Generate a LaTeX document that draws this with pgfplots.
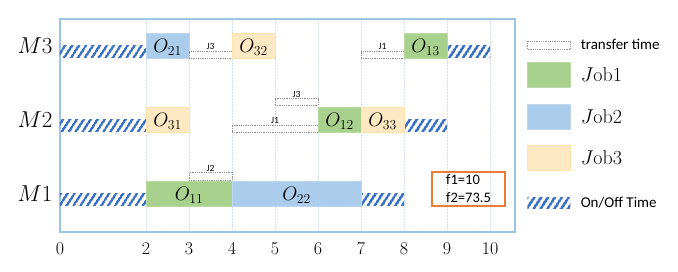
\RequirePackage{fix-cm}
\documentclass[border=0pt]{standalone}
\usepackage{fontspec}
\usepackage{pgfplots}
\pgfplotsset{compat=1.18}
\usetikzlibrary{patterns.meta}
\newfontfamily\calibri{Carlito}
\definecolor{gfill}{HTML}{A9D18E}
\definecolor{gdraw}{HTML}{B9DBA3}
\definecolor{bfill}{HTML}{ABCCEB}
\definecolor{bdraw}{HTML}{BCD6EF}
\definecolor{yfill}{HTML}{FFE9C2}
\definecolor{ydraw}{HTML}{FFE2AC}
\definecolor{hblue}{HTML}{3A70C3}
\definecolor{axblue}{HTML}{9DC3E6}
\definecolor{gridc}{HTML}{D5E0EE}
\definecolor{orng}{HTML}{ED7D31}
\definecolor{trgray}{HTML}{909090}
\newcommand{\gbox}[5]{\addplot[forget plot,#5] coordinates {(#1,#3) (#2,#3) (#2,#4) (#1,#4)} -- cycle;}
\tikzset{
  job1/.style={fill=gfill,draw=gdraw,line width=0.8pt},
  job2/.style={fill=bfill,draw=bdraw,line width=0.8pt},
  job3/.style={fill=yfill,draw=ydraw,line width=0.8pt},
  hatch/.style={draw=none,pattern={Lines[angle=57,distance=6.4pt,line width=2.9pt]},pattern color=hblue},
  trans/.style={fill=white,draw=trgray,densely dotted,line width=0.8pt},
  olab/.style={anchor=base,font=\fontsize{19.5}{19.5}\selectfont},
  jlab/.style={anchor=south,inner sep=1pt,font=\calibri\fontsize{9.5}{9.5}\selectfont},
}
\begin{document}
\begin{tikzpicture}
\begin{axis}[
  at={(0pt,0pt)}, anchor=south west,
  scale only axis, width=455pt, height=213pt,
  xmin=0, xmax=10.58, ymin=0.48, ymax=3.358,
  axis line style={draw=axblue,line width=1.3pt},
  xtick={0,2,3,4,5,6,7,8,9,10},
  ytick={1,2,3}, yticklabels={$M1$,$M2$,$M3$},
  major tick length=0pt,
  xmajorgrids,
  grid style={draw=gridc,dash pattern=on 1.5pt off 1.5pt,line width=0.6pt},
  xticklabel style={font=\fontsize{18}{18}\selectfont,yshift=-7pt},
  yticklabel style={font=\fontsize{23}{23}\selectfont,xshift=-4pt},
  clip=false,
  legend style={at={(1.0264,0.9249)},anchor=north west,draw=none,fill=none,
    inner sep=0pt,outer sep=0pt,row sep=0pt,column sep=10pt,
    nodes={inner sep=0pt}},
  legend cell align=left,
]
% legend
\addlegendimage{legend image code/.code={
  \path[draw=none,fill=none] (0pt,-15pt) rectangle (1pt,10pt);
  \draw[fill=white,draw=trgray,densely dotted,line width=0.8pt] (0pt,-4pt) rectangle (43pt,4pt);}}
\addlegendentry{\calibri\fontsize{15}{15}\selectfont transfer time}
\addlegendimage{legend image code/.code={
  \path[draw=none,fill=none] (0pt,-21pt) rectangle (1pt,15pt);
  \draw[fill=gfill,draw=gdraw,line width=0.8pt] (0pt,-12.5pt) rectangle (43pt,12.5pt);}}
\addlegendentry{\fontsize{20}{20}\selectfont$J$ob1}
\addlegendimage{legend image code/.code={
  \path[draw=none,fill=none] (0pt,-20.5pt) rectangle (1pt,21pt);
  \draw[fill=bfill,draw=bdraw,line width=0.8pt] (0pt,-12.5pt) rectangle (43pt,12.5pt);}}
\addlegendentry{\fontsize{20}{20}\selectfont$J$ob2}
\addlegendimage{legend image code/.code={
  \path[draw=none,fill=none] (0pt,-22.5pt) rectangle (1pt,20.5pt);
  \draw[fill=yfill,draw=ydraw,line width=0.8pt] (0pt,-12.5pt) rectangle (43pt,12.5pt);}}
\addlegendentry{\fontsize{20}{20}\selectfont$J$ob3}
\addlegendimage{legend image code/.code={
  \path[draw=none,fill=none] (0pt,-6pt) rectangle (1pt,22.5pt);
  \path[draw=none,pattern={Lines[angle=57,distance=6.4pt,line width=2.9pt]},pattern color=hblue] (0pt,-5.5pt) rectangle (43pt,5.5pt);}}
\addlegendentry{\calibri\fontsize{15}{15}\selectfont On/Off Time}

% On/Off hatch
\gbox{0}{2}{2.835}{3.0}{hatch}
\gbox{9}{10}{2.835}{3.0}{hatch}
\gbox{0}{2}{1.835}{2.0}{hatch}
\gbox{8}{9}{1.835}{2.0}{hatch}
\gbox{0}{2}{0.835}{1.0}{hatch}
\gbox{7}{8}{0.835}{1.0}{hatch}
% M3
\gbox{2}{3}{2.83}{3.17}{job2}
\gbox{3}{4}{2.83}{2.925}{trans}
\gbox{4}{5}{2.83}{3.17}{job3}
\gbox{7}{8}{2.83}{2.925}{trans}
\gbox{8}{9}{2.83}{3.17}{job1}
% M2
\gbox{2}{3}{1.83}{2.17}{job3}
\gbox{4}{6}{1.83}{1.925}{trans}
\gbox{5}{6}{2.195}{2.28}{trans}
\gbox{6}{7}{1.83}{2.17}{job1}
\gbox{7}{8}{1.83}{2.17}{job3}
% M1
\gbox{2}{4}{0.83}{1.17}{job1}
\gbox{3}{4}{1.18}{1.28}{trans}
\gbox{4}{7}{0.83}{1.17}{job2}

% labels
\node[olab] at (axis cs:2.5,2.9) {$O_{21}$};
\node[olab] at (axis cs:4.5,2.9) {$O_{32}$};
\node[olab] at (axis cs:8.5,2.9) {$O_{13}$};
\node[olab] at (axis cs:2.5,1.9) {$O_{31}$};
\node[olab] at (axis cs:6.5,1.9) {$O_{12}$};
\node[olab] at (axis cs:7.5,1.9) {$O_{33}$};
\node[olab] at (axis cs:3,0.9) {$O_{11}$};
\node[olab] at (axis cs:5.5,0.9) {$O_{22}$};
\node[jlab] at (axis cs:3.5,2.925) {J3};
\node[jlab] at (axis cs:7.5,2.925) {J1};
\node[jlab] at (axis cs:5,1.925) {J1};
\node[jlab] at (axis cs:5.5,2.28) {J3};
\node[jlab] at (axis cs:3.5,1.28) {J2};
\node[draw=orng,line width=1.2pt,minimum width=73pt,minimum height=34pt,inner sep=0pt,
  align=left,font=\calibri\fontsize{14.5}{18}\selectfont] at (axis cs:9.5,1.06) {f1=10\\f2=73.5};
\end{axis}
\pgfresetboundingbox
\path[use as bounding box] (-60pt,-40pt) rectangle (618pt,232pt);
\end{tikzpicture}
\end{document}
